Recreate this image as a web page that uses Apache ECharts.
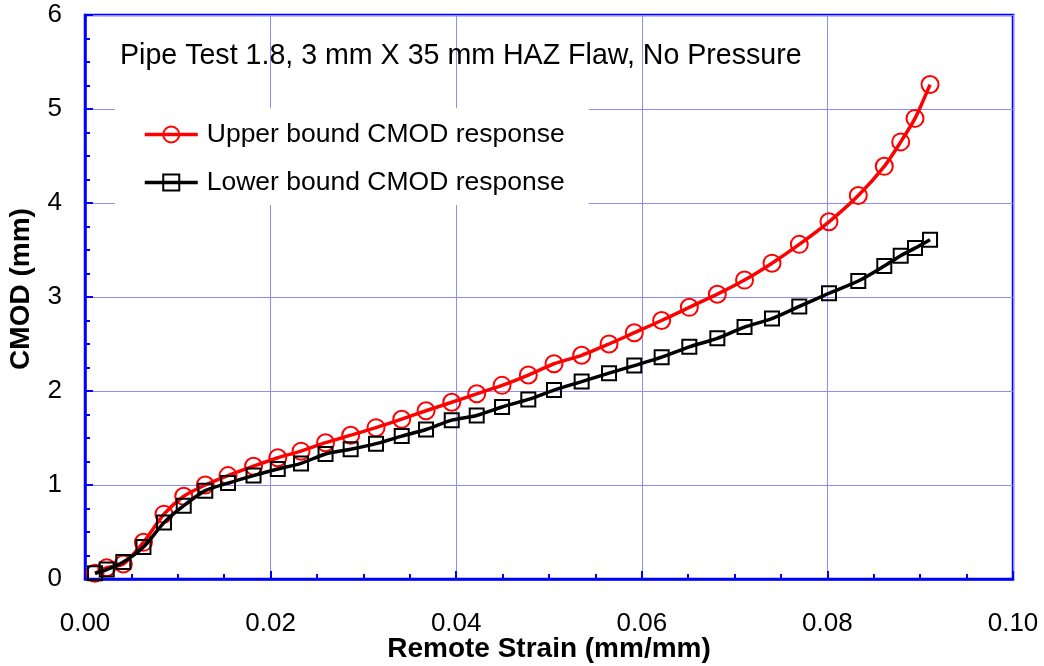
<!DOCTYPE html>
<html>
<head>
<meta charset="utf-8">
<script src="https://cdn.jsdelivr.net/npm/echarts@6/dist/echarts.min.js"></script>
<style>html,body{margin:0;padding:0;background:#fff}#c{width:1044px;height:666px}</style>
</head>
<body>
<div id="c"></div>
<script>
var strain = [0.00108,0.00234,0.00413,0.00630,0.00851,0.01064,0.01296,0.01541,0.01816,0.02077,0.02328,0.02592,0.02863,0.03136,0.03413,0.03675,0.03952,0.04221,0.04494,0.04777,0.05054,0.05352,0.05647,0.05919,0.06214,0.06512,0.06814,0.07107,0.07403,0.07697,0.08017,0.08333,0.08613,0.08790,0.08944,0.09106];
var upperCMOD = [0.06,0.12,0.16,0.39,0.69,0.88,1.00,1.10,1.20,1.29,1.36,1.45,1.53,1.61,1.70,1.79,1.88,1.97,2.06,2.17,2.29,2.38,2.50,2.62,2.75,2.89,3.03,3.18,3.36,3.56,3.80,4.08,4.39,4.65,4.90,5.26];
var lowerCMOD = [0.06,0.10,0.18,0.34,0.60,0.78,0.94,1.02,1.10,1.17,1.23,1.33,1.38,1.44,1.52,1.59,1.69,1.74,1.83,1.91,2.01,2.10,2.19,2.27,2.36,2.47,2.56,2.68,2.77,2.90,3.04,3.17,3.33,3.44,3.52,3.61];
var xTicks = ['0.00','0.02','0.04','0.06','0.08','0.10'];
var seriesNames = ['Upper bound CMOD response','Lower bound CMOD response'];
var chartTitle = 'Pipe Test 1.8, 3 mm X 35 mm HAZ Flaw, No Pressure';

function zip(xs, ys){ return xs.map(function(x,i){ return [x, ys[i]]; }); }

var FONT = '"Liberation Sans", Arial, sans-serif';
var chart = echarts.init(document.getElementById('c'), null, {renderer:'canvas'});
chart.setOption({
  animation: false,
  backgroundColor: '#fff',
  title: {
    text: chartTitle, left: 120, top: 42, padding: 0,
    textStyle: {fontFamily: FONT, fontSize: 28.6, fontWeight: 'normal', color: '#000'}
  },
  legend: {
    orient: 'vertical', left: 115, top: 108,
    padding: [13, 24, 9, 28],
    backgroundColor: '#fff',
    itemWidth: 53, itemHeight: 20, itemGap: 21,
    lineStyle: {width: 3.5},
    itemStyle: {borderWidth: 2},
    textStyle: {fontFamily: FONT, fontSize: 26.5, color: '#000', padding: [0,0,0,4]},
    data: seriesNames
  },
  grid: {left: 85, right: 31, top: 15, bottom: 87, outerBoundsMode: 'none', containLabel: false,
    show: true, borderColor: '#0000ff', borderWidth: 2.5, backgroundColor: 'transparent'},
  xAxis: {
    type: 'value', min: 0, max: 0.1, interval: 0.02,
    name: 'Remote Strain (mm/mm)', nameLocation: 'middle', nameGap: 56, nameMoveOverlap: false,
    nameTextStyle: {fontFamily: FONT, fontSize: 28, fontWeight: 'bold', color: '#000'},
    axisLine: {show: true, lineStyle: {color: '#0000ff', width: 2.5}},
    axisTick: {show: true, inside: true, length: 8, lineStyle: {color: '#0000ff', width: 2}},
    minorTick: {show: true, splitNumber: 4, length: 5, lineStyle: {color: '#0000ff', width: 2}},
    splitLine: {show: true, lineStyle: {color: '#8c8cff', width: 1, type: 'solid'}},
    axisLabel: {margin: 32, fontFamily: FONT, fontSize: 26, color: '#000',
      formatter: function(v){ return xTicks[Math.round(v/0.02)]; }}
  },
  yAxis: {
    type: 'value', min: 0, max: 6, interval: 1,
    name: 'CMOD (mm)', nameLocation: 'middle', nameGap: 50, nameMoveOverlap: false,
    nameTextStyle: {fontFamily: FONT, fontSize: 28, fontWeight: 'bold', color: '#000', padding: [0, 0, 0, 16]},
    axisLine: {show: true, lineStyle: {color: '#0000ff', width: 2.5}},
    axisTick: {show: true, inside: true, length: 8, lineStyle: {color: '#0000ff', width: 2}},
    minorTick: {show: true, splitNumber: 4, length: 5, lineStyle: {color: '#0000ff', width: 2}},
    splitLine: {show: true, lineStyle: {color: '#8c8cff', width: 1, type: 'solid'}},
    axisLabel: {margin: 23, fontFamily: FONT, fontSize: 26, color: '#000'}
  },
  series: [
    {
      name: seriesNames[0], type: 'line', data: zip(strain, upperCMOD),
      smooth: 0.25, symbol: 'circle', symbolSize: 17,
      lineStyle: {color: '#ff0000', width: 3.5},
      itemStyle: {color: 'rgba(255,255,255,0)', borderColor: '#ff0000', borderWidth: 2},
      z: 3
    },
    {
      name: seriesNames[1], type: 'line', data: zip(strain, lowerCMOD),
      smooth: 0.25, symbol: 'rect', symbolSize: 14,
      lineStyle: {color: '#000000', width: 3.5},
      itemStyle: {color: 'rgba(255,255,255,0)', borderColor: '#000000', borderWidth: 2},
      z: 4
    }
  ]
});
</script>
</body>
</html>
